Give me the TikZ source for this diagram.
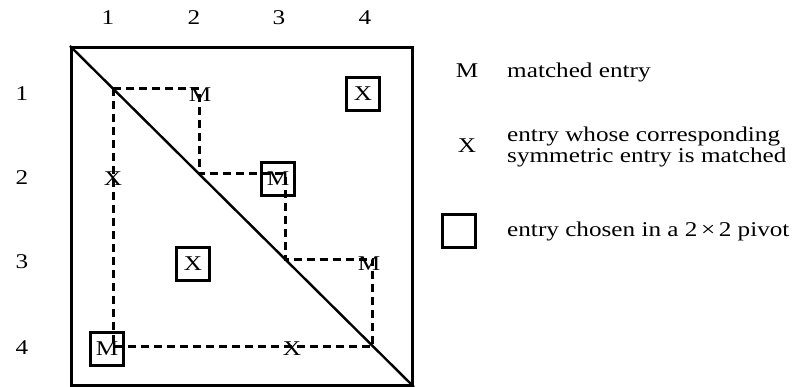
\documentclass[tikz,border=0pt]{standalone}
\usepackage{fontspec}
\setmainfont{Liberation Serif}[FakeStretch=1.2]
\usetikzlibrary{calc}
\tikzset{
  lbl/.style={font=\fontsize{21}{21}\selectfont, inner sep=0pt},
  boxed/.style={lbl, draw, line width=2.4pt, minimum size=33pt},
  stair/.style={line width=3pt, dash pattern=on 8pt off 5pt},
}
\begin{document}
\begin{tikzpicture}[x=1pt,y=-1pt]
\useasboundingbox (0,0) rectangle (811,387);
% matrix frame
\node[draw, line width=3pt, minimum width=341pt, minimum height=338pt, anchor=north west, inner sep=0pt] (mat) at (70,46) {};
\draw[line width=2.4pt] (mat.north west) -- (mat.south east);
% column and row labels
\node[lbl] (col1) at (108,18) {1};
\node[lbl] (col2) at (194,18) {2};
\node[lbl] (col3) at (279,18) {3};
\node[lbl] (col4) at (365,18) {4};
\node[lbl] (row1) at (22,94) {1};
\node[lbl] (row2) at (22,178) {2};
\node[lbl] (row3) at (22,262) {3};
\node[lbl] (row4) at (22,348) {4};
% staircase corners on the diagonal
\coordinate (c1) at ($(mat.north west)!0.125!(mat.south east)$);
\coordinate (c2) at ($(mat.north west)!0.375!(mat.south east)$);
\coordinate (c3) at ($(mat.north west)!0.625!(mat.south east)$);
\coordinate (c4) at ($(mat.north west)!0.88!(mat.south east)$);
\draw[stair] (c1) -| (c2) -| (c3) -| (c4) -| (c1);
% entries
\node[lbl] (m12) at (200,95) {M};
\node[boxed] (x14) at (363,94) {X};
\node[lbl] (x21) at (113,179) {X};
\node[boxed] (m23) at (278,179) {M};
\node[boxed] (x32) at (193,264) {X};
\node[lbl] (m34) at (369,264) {M};
\node[boxed] (m41) at (107,349) {M};
\node[lbl] (x43) at (292,349) {X};
% legend
\node[lbl, anchor=base] (legM) at (467,78) {M};
\node[lbl, anchor=base west] (legMt) at (507,78) {matched entry};
\node[lbl, anchor=base] (legX) at (467,153) {X};
\node[lbl, anchor=base west] (legXt1) at (507,142) {entry whose corresponding};
\node[lbl, anchor=base west] (legXt2) at (507,163) {symmetric entry is matched};
\node[draw, line width=2.4pt, minimum size=33pt, inner sep=0pt] (legB) at (459,231) {};
\node[lbl, anchor=base west] (legBt) at (507,237) {entry chosen in a 2\,×\,2 pivot};
\end{tikzpicture}
\end{document}
